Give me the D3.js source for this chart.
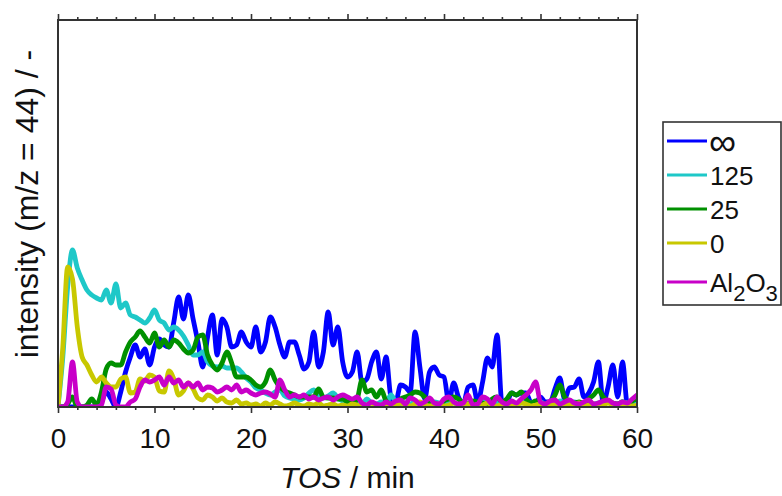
<!DOCTYPE html>
<html>
<head>
<meta charset="utf-8">
<script src="https://cdn.jsdelivr.net/npm/d3@7"></script>
<style>
  body { margin: 0; background: #fff; }
  text { font-family: "Liberation Sans", Arial, sans-serif; fill: #111; }
</style>
</head>
<body>
<svg width="782" height="496"></svg>
<script>
// time on stream, every half minute
const tos = d3.range(0, 60.01, 0.5);

// intensities (arbitrary units, baseline = 0)
const infinity = [0,0,0,0,0,0,0,0,0,5, 15,8,0,15,35,50,62,50,58,42,
  60,68,62,60,85,110,88,112,88,65, 40,70,92,52,88,80,60,62,75,65,
  60,80,55,65,90,80,62,50,65,65, 52,38,45,75,40,55,95,62,80,45,
  30,35,55,25,28,45,55,28,50,10, 5,22,20,15,75,40,8,35,40,32,
  30,5,24,10,3,20,22,5,25,49, 40,72,5,5,14,12,14,14,5,4,
  10,5,5,18,29,8,19,20,28,10, 14,25,45,4,20,42,10,45,3,5, 8];
const c125 = [0,50,120,157,139,127,117,112,109,107, 117,104,123,99,104,92,90,87,84,89,
  97,87,84,77,80,77,71,62,52,52, 55,45,41,40,41,39,39,39,35,29,
  25,19,17,14,12,15,17,11,9,8, 7,9,14,17,12,9,11,14,9,6,
  5,7,4,3,8,4,3,5,4,12, 5,3,4,3,5,3,4,3,5,4,
  3,5,4,3,5,3,4,3,6,4, 3,5,3,4,5,3,4,6,4,3,
  5,3,4,3,6,4,3,5,4,3, 5,3,4,3,5,4,3,5,4,3, 4];
const c25 = [0,0,3,10,0,0,2,8,2,15, 38,44,42,42,55,65,70,76,70,64,
  74,60,67,60,67,64,58,54,57,70, 72,52,42,37,44,55,44,30,30,30,
  27,22,20,25,37,27,20,16,14,12, 10,10,10,10,18,10,9,9,8,8,
  5,4,8,27,15,17,10,17,6,3, 4,8,10,12,15,14,10,5,3,2,
  6,8,10,8,4,3,6,5,4,3, 8,10,5,8,14,12,15,8,4,6,
  4,3,5,12,22,10,6,4,5,4, 8,12,17,10,6,4,3,5,3,6, 8];
const c0 = [0,60,140,128,80,50,42,32,25,30, 24,20,20,28,30,14,15,28,26,32,
  30,16,15,36,28,12,16,24,18,9, 7,12,10,6,9,5,4,7,3,4,
  2,3,1,4,2,5,3,1,2,4, 2,1,3,2,4,1,2,3,1,2,
  1,3,2,1,2,4,1,2,3,1, 2,4,2,1,3,5,2,1,2,3,
  1,2,4,2,1,3,2,1,2,4, 2,1,3,2,1,2,4,3,1,2,
  3,1,2,4,2,1,3,2,4,1, 2,3,1,2,4,2,1,3,2,1, 2];
const al2o3 = [0,0,5,45,5,0,0,0,0,2, 20,18,2,0,0,5,8,20,27,25,
  27,30,22,30,24,27,20,24,20,24, 17,20,19,15,17,20,17,22,15,17,
  14,12,14,15,13,10,27,17,10,12, 10,12,8,10,7,9,10,7,10,12,
  10,8,10,4,2,5,3,2,5,3, 6,7,3,9,7,3,5,9,4,3,
  8,10,5,3,4,12,2,3,10,8, 3,10,5,3,6,4,8,12,17,25,
  5,3,6,7,3,5,7,4,3,5, 7,3,4,6,7,4,3,5,4,8, 12];

const seriesNames = ['∞', '125', '25', '0', 'Al2O3'];
const seriesValues = [infinity, c125, c25, c0, al2o3];
const seriesColors = ['#0000ff', '#1ec8c8', '#009000', '#c8c800', '#c800c8'];

const xMajorTicks = [0, 10, 20, 30, 40, 50, 60];
const xMinorTicks = d3.range(0, 60.01, 2).filter(t => t % 10 !== 0);

const svg = d3.select('svg');
const margin = { left: 58, right: 145, top: 20, bottom: 89 };
const width = 782 - margin.left - margin.right;
const height = 496 - margin.top - margin.bottom;

const xScale = d3.scaleLinear().domain([0, 60]).range([0, width]);
const yScale = d3.scaleLinear().domain([0, 387]).range([height, 0]);

const plot = svg.append('g')
  .attr('transform', `translate(${margin.left},${margin.top})`);

// lines first so the frame sits on top
svg.append('clipPath').attr('id', 'plotclip')
  .append('rect').attr('width', width).attr('height', height);

const lineGen = d3.line()
  .x((d, i) => xScale(tos[i]))
  .y(d => yScale(d))
  .curve(d3.curveMonotoneX);

plot.append('g').attr('clip-path', 'url(#plotclip)')
  .selectAll('path')
  .data(seriesValues)
  .join('path')
    .attr('d', lineGen)
    .attr('fill', 'none')
    .attr('stroke', (d, i) => seriesColors[i])
    .attr('stroke-width', 4.8)
    .attr('stroke-linejoin', 'round')
    .attr('stroke-linecap', 'round');

// axes
const bottomMajor = d3.axisBottom(xScale).tickValues(xMajorTicks)
  .tickSize(6).tickSizeOuter(0).tickPadding(15);
const bottomMinor = d3.axisBottom(xScale).tickValues(xMinorTicks)
  .tickSize(3).tickSizeOuter(0).tickFormat('');
const topMajor = d3.axisTop(xScale).tickValues(xMajorTicks)
  .tickSize(6).tickSizeOuter(0).tickFormat('');
const topMinor = d3.axisTop(xScale).tickValues(xMinorTicks)
  .tickSize(3).tickSizeOuter(0).tickFormat('');

const bottomG = plot.append('g').attr('transform', `translate(0,${height})`);
bottomG.append('g').call(bottomMinor);
bottomG.append('g').call(bottomMajor);
const topG = plot.append('g');
topG.append('g').call(topMinor);
topG.append('g').call(topMajor);

plot.selectAll('.domain').remove();
plot.selectAll('.tick line').attr('stroke', '#333').attr('stroke-width', 1.6);
plot.selectAll('.tick text')
  .attr('fill', '#111')
  .style('font-size', '28px')
  .style('font-family', '"Liberation Sans", Arial, sans-serif');

// frame
plot.append('rect')
  .attr('width', width).attr('height', height)
  .attr('fill', 'none')
  .attr('stroke', '#333')
  .attr('stroke-width', 2);

// axis titles
const xTitle = svg.append('text')
  .attr('x', margin.left + width / 2)
  .attr('y', 488)
  .attr('text-anchor', 'middle')
  .style('font-size', '30px');
xTitle.append('tspan').style('font-style', 'italic').text('TOS');
xTitle.append('tspan').text(' / min');

svg.append('text')
  .attr('transform', 'translate(38,204) rotate(-90)')
  .attr('text-anchor', 'middle')
  .style('font-size', '32px')
  .text('intensity (m/z = 44) / -');

// legend
const legend = svg.append('g').attr('transform', 'translate(663,122)');
legend.append('rect')
  .attr('width', 118).attr('height', 183)
  .attr('fill', '#fff')
  .attr('stroke', '#333')
  .attr('stroke-width', 1.6);

const legendY = [19, 53, 87, 121, 160];
const items = legend.selectAll('g.item')
  .data(seriesNames)
  .join('g')
    .attr('class', 'item')
    .attr('transform', (d, i) => `translate(4,${legendY[i]})`);
items.append('line')
  .attr('x1', 0).attr('x2', 40)
  .attr('stroke', (d, i) => seriesColors[i])
  .attr('stroke-width', 3);
items.each(function (d) {
  const t = d3.select(this).append('text')
    .attr('x', 43).attr('y', 10)
    .style('font-size', '26px');
  if (d === 'Al2O3') {
    t.append('tspan').text('Al');
    t.append('tspan').attr('dy', 9).style('font-size', '22px').text('2');
    t.append('tspan').attr('dy', -9).text('O');
    t.append('tspan').attr('dy', 9).style('font-size', '22px').text('3');
  } else if (d === '∞') {
    t.attr('x', 42).attr('y', 14).style('font-size', '38px').text(d);
  } else {
    t.text(d);
  }
});
</script>
</body>
</html>
